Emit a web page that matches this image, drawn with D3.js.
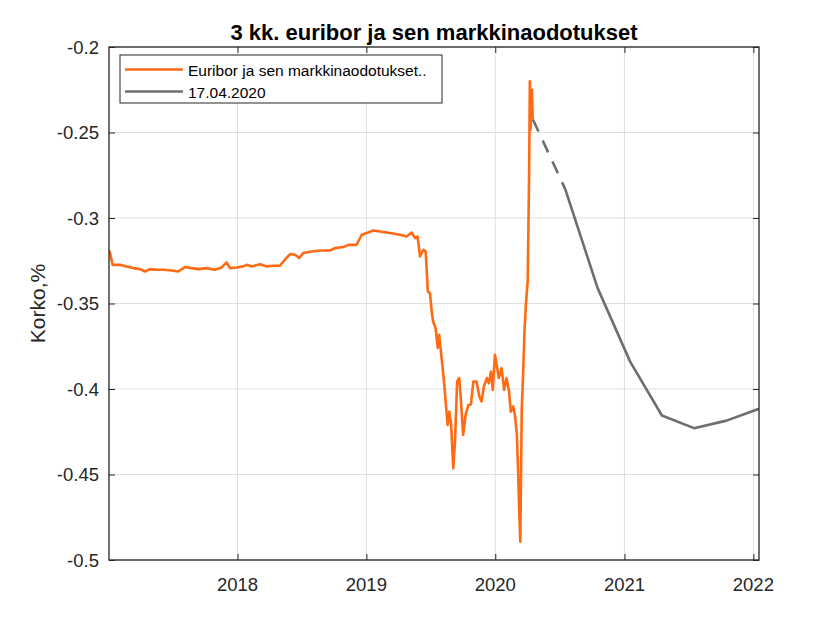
<!DOCTYPE html>
<html>
<head>
<meta charset="utf-8">
<script src="https://cdn.jsdelivr.net/npm/d3@7"></script>
<style>
  body { margin: 0; background: #fff; }
  svg { font-family: "Liberation Sans", Arial, sans-serif; }
</style>
</head>
<body>
<div id="chart"></div>
<script>
// euribor
const euriborDates = [
  "2017-01-02","2017-01-05","2017-01-12","2017-02-02","2017-02-21","2017-03-12","2017-03-31","2017-04-14",
  "2017-04-28","2017-05-17","2017-06-05","2017-06-29","2017-07-17","2017-08-05","2017-08-24","2017-09-12",
  "2017-10-06","2017-10-29","2017-11-17","2017-12-01","2017-12-11","2017-12-30","2018-01-17","2018-01-27",
  "2018-02-10","2018-03-06","2018-03-25","2018-04-12","2018-05-01","2018-05-15","2018-05-30","2018-06-13",
  "2018-06-25","2018-07-06","2018-07-30","2018-08-23","2018-09-20","2018-10-04","2018-10-28","2018-11-11",
  "2018-12-04","2018-12-19","2019-01-02","2019-01-21","2019-02-09","2019-03-09","2019-04-06","2019-04-25",
  "2019-05-09","2019-05-19","2019-05-26","2019-06-02","2019-06-11","2019-06-18","2019-06-24","2019-06-30",
  "2019-07-05","2019-07-09","2019-07-16","2019-07-22","2019-07-26","2019-07-31","2019-08-07","2019-08-12",
  "2019-08-19","2019-08-24","2019-08-29","2019-09-04","2019-09-09","2019-09-15","2019-09-21","2019-09-26",
  "2019-10-02","2019-10-09","2019-10-17","2019-10-24","2019-10-31","2019-11-09","2019-11-17","2019-11-23",
  "2019-11-30","2019-12-08","2019-12-14","2019-12-20","2019-12-25","2019-12-31","2020-01-05","2020-01-11",
  "2020-01-19","2020-01-26","2020-02-02","2020-02-09","2020-02-14","2020-02-21","2020-02-26","2020-03-02",
  "2020-03-06","2020-03-09","2020-03-12","2020-03-16","2020-03-20","2020-03-24","2020-03-28","2020-04-02",
  "2020-04-06","2020-04-08","2020-04-10","2020-04-14","2020-04-16"
];
const euriborValues = [
  -0.319,-0.3205,-0.3274,-0.3274,-0.3283,-0.3293,-0.3299,-0.3313,
  -0.3299,-0.3303,-0.3303,-0.3307,-0.3313,-0.3287,-0.3293,-0.3299,
  -0.3293,-0.3303,-0.3289,-0.326,-0.3293,-0.3289,-0.3283,-0.3274,
  -0.3283,-0.327,-0.3283,-0.3279,-0.3279,-0.3244,-0.3211,-0.3215,
  -0.3234,-0.3205,-0.3196,-0.319,-0.319,-0.3176,-0.317,-0.3157,
  -0.3157,-0.3098,-0.3088,-0.3073,-0.3079,-0.3088,-0.3098,-0.3108,
  -0.3085,-0.3118,-0.3108,-0.3225,-0.3186,-0.3196,-0.343,-0.344,
  -0.3547,-0.3605,-0.3644,-0.376,-0.3683,-0.378,-0.3917,-0.4034,
  -0.421,-0.4132,-0.421,-0.4463,-0.4307,-0.3956,-0.3936,-0.4073,
  -0.4268,-0.4151,-0.4093,-0.4090,-0.3956,-0.3956,-0.4044,-0.4073,
  -0.3985,-0.3936,-0.3966,-0.3898,-0.4005,-0.38,-0.3859,-0.3936,
  -0.3878,-0.4005,-0.3936,-0.4014,-0.4132,-0.4102,-0.4161,-0.4259,
  -0.4493,-0.4727,-0.4893,-0.4122,-0.3907,-0.3654,-0.3498,-0.3362,
  -0.2718,-0.2201,-0.2484,-0.225,-0.2425
];

// market expectations 17.04.2020
const forecastDates = ["2020-04-17","2020-07-17","2020-10-17","2021-01-17","2021-04-17","2021-07-17","2021-10-17","2022-01-17"];
const forecastValues = [-0.2425,-0.283,-0.341,-0.384,-0.4155,-0.4229,-0.4185,-0.4116];

const yTicks = [-0.5,-0.45,-0.4,-0.35,-0.3,-0.25,-0.2];
const yTickLabels = ["-0.5","-0.45","-0.4","-0.35","-0.3","-0.25","-0.2"];
const xTickYears = ["2018","2019","2020","2021","2022"];
const legendLabels = ["Euribor ja sen markkinaodotukset..", "17.04.2020"];

const W = 840, H = 630;
const pL = 109, pR = 759, pT = 47, pB = 560;
const orange = "#ff6a13", gray = "#6e6e6e", ink = "#262626", grid = "#dfdfdf";

const parse = d3.timeParse("%Y-%m-%d");
const euribor = euriborDates.map((d,i) => ({date: parse(d), v: euriborValues[i]}));
const forecast = forecastDates.map((d,i) => ({date: parse(d), v: forecastValues[i]}));

var x = d3.scaleTime()
    .domain([euribor[0].date, forecast[forecast.length-1].date])
    .range([pL, pR]);
var y = d3.scaleLinear()
    .domain([-0.5, -0.2])
    .range([pB, pT]);

var svg = d3.select("#chart").append("svg")
    .attr("width", W).attr("height", H);

svg.append("defs").append("clipPath").attr("id","clip")
  .append("rect").attr("x",pL).attr("y",pT).attr("width",pR-pL).attr("height",pB-pT);

const xTicks = xTickYears.map(s => parse(s + "-01-01"));

// grid
svg.append("g").selectAll("line").data(xTicks).enter().append("line")
    .attr("x1", d => x(d)).attr("x2", d => x(d))
    .attr("y1", pT).attr("y2", pB)
    .attr("stroke", grid).attr("stroke-width", 1);
svg.append("g").selectAll("line").data(yTicks).enter().append("line")
    .attr("x1", pL).attr("x2", pR)
    .attr("y1", d => y(d)).attr("y2", d => y(d))
    .attr("stroke", grid).attr("stroke-width", 1);

// axes (ticks inward, both sides)
const tl = 6;
svg.append("g").attr("transform","translate(0,"+pB+")")
    .call(d3.axisTop(x).tickValues(xTicks).tickSize(tl).tickFormat(""))
    .call(g => g.select(".domain").remove());
svg.append("g").attr("transform","translate(0,"+pT+")")
    .call(d3.axisBottom(x).tickValues(xTicks).tickSize(tl).tickFormat(""))
    .call(g => g.select(".domain").remove());
svg.append("g").attr("transform","translate("+pL+",0)")
    .call(d3.axisRight(y).tickValues(yTicks).tickSize(tl).tickFormat(""))
    .call(g => g.select(".domain").remove());
svg.append("g").attr("transform","translate("+pR+",0)")
    .call(d3.axisLeft(y).tickValues(yTicks).tickSize(tl).tickFormat(""))
    .call(g => g.select(".domain").remove());
svg.selectAll(".tick line").attr("stroke", ink);

// tick labels
svg.append("g").selectAll("text").data(xTicks).enter().append("text")
    .attr("x", d => x(d)).attr("y", pB + 31)
    .attr("text-anchor","middle").attr("font-size", 18.5).attr("fill", ink)
    .text((d,i) => xTickYears[i]);
svg.append("g").selectAll("text").data(yTicks).enter().append("text")
    .attr("x", pL - 10).attr("y", d => y(d) + 6.5)
    .attr("text-anchor","end").attr("font-size", 18.5).attr("fill", ink)
    .text((d,i) => yTickLabels[i]);

// lines
var line = d3.line().x(d => x(d.date)).y(d => y(d.v));
var plot = svg.append("g").attr("clip-path","url(#clip)");
plot.append("path").datum(euribor)
    .attr("d", line).attr("fill","none")
    .attr("stroke", orange).attr("stroke-width", 2.6).attr("stroke-linejoin","round");
plot.append("path").datum(forecast.slice(0,2))
    .attr("d", line).attr("fill","none")
    .attr("stroke", gray).attr("stroke-width", 2.6).attr("stroke-dasharray","13,10");
plot.append("path").datum(forecast.slice(1))
    .attr("d", line).attr("fill","none")
    .attr("stroke", gray).attr("stroke-width", 2.6).attr("stroke-linejoin","round");

// box
svg.append("rect").attr("x",pL).attr("y",pT).attr("width",pR-pL).attr("height",pB-pT)
    .attr("fill","none").attr("stroke", ink).attr("stroke-width", 1.3);

// title + y label
svg.append("text").attr("x", 434).attr("y", 40)
    .attr("text-anchor","middle").attr("font-size", 22).attr("font-weight","bold").attr("fill","#000")
    .text("3 kk. euribor ja sen markkinaodotukset");
svg.append("text").attr("transform","translate(45,"+((pT+pB)/2)+") rotate(-90)")
    .attr("text-anchor","middle").attr("font-size", 21).attr("fill", ink)
    .text("Korko,%");

// legend
var lg = svg.append("g");
lg.append("rect").attr("x",120).attr("y",55).attr("width",322).attr("height",48)
    .attr("fill","#fff").attr("stroke", ink).attr("stroke-width",1);
[orange, gray].forEach((c,i) => {
  const ly = 69.5 + i*22;
  lg.append("line").attr("x1",125).attr("x2",183).attr("y1",ly).attr("y2",ly)
    .attr("stroke", c).attr("stroke-width", 2.6);
  lg.append("text").attr("x",188).attr("y", ly + 6)
    .attr("font-size", 15.5).attr("fill","#000").text(legendLabels[i]);
});
</script>
</body>
</html>
